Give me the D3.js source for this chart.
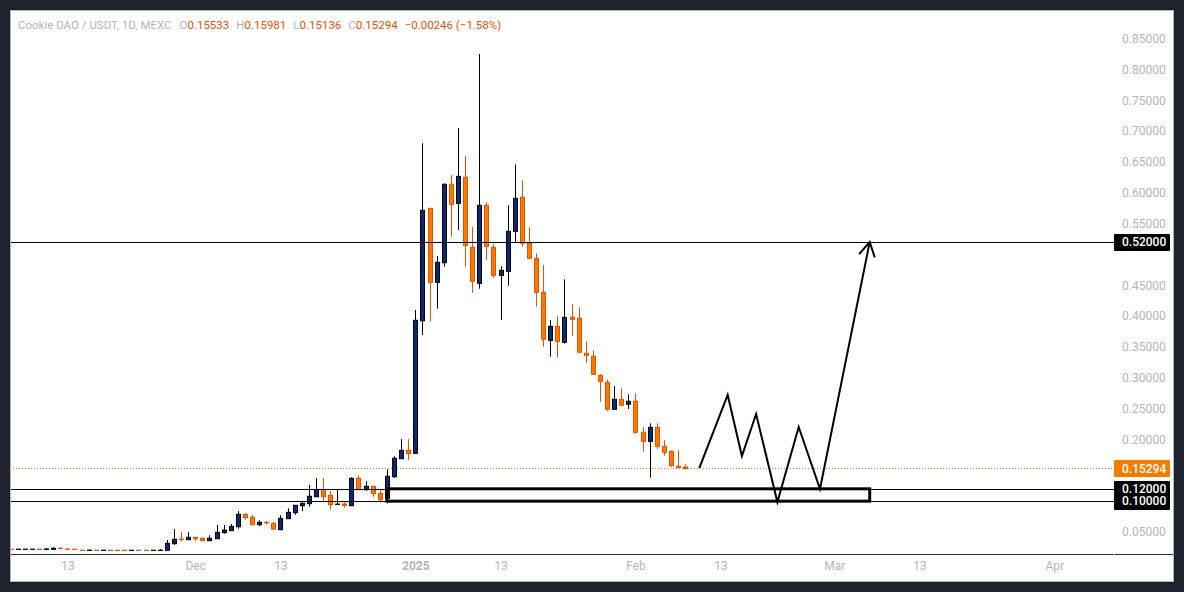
<!DOCTYPE html>
<html>
<head>
<meta charset="utf-8">
<style>
  html, body { margin: 0; padding: 0; background: #1e222d; }
  svg { display: block; font-family: Roboto, sans-serif; }
  .axis text { fill: #b2b5be; font-size: 12px; font-family: Roboto, sans-serif; }
  .axis .tick line { display: none; }
  .axis .domain { display: none; }
</style>
</head>
<body>
<div id="chart"></div>
<script src="https://cdn.jsdelivr.net/npm/d3@7/dist/d3.min.js"></script>
<script>
// daily candles, first one is 5 Nov 2024
const firstDay = '2024-11-05';
const opens = [
  .0222,.0218,.0218,.0218,.0222,.0218,.0220,.0236,.0222,.0222,.0205,.0201,.0205,.0201,.0205,.0205,.0205,.0201,.0205,.0205,.0201,.0201,
  .0203,.0310,.0385,.0375,.0414,.0398,.0359,.0391,.0489,.0521,.0586,.0787,.0738,.0618,.0655,.0641,.0537,.0716,.0813,.0926,.0959,.1072,
  .1186,.1095,.0947,.0954,.0926,.1370,.1186,.1241,.1127,.1046,.1396,.1688,.1824,
  .1776,.3925,.5747,.4548,.4865,.6136,.5828,.6250,.5115,.4531,.5796,.5115,.4661,.4726,.5374,.5925,.5180,.4937,.4386,.3607,.3834,.3575,.3980,.3964,.3397,.3348,.3040,.2927,.2489,.2651,.2570,
  .2619,.2116,.1970,.2197,.1889,.1808,.1565,.15533
];
const highs = [
  .0222,.0222,.0222,.0222,.0222,.0236,.0252,.0252,.0241,.0222,.0205,.0220,.0205,.0205,.0205,.0205,.0205,.0205,.0205,.0205,.0205,.0225,
  .0370,.0549,.0500,.0500,.0414,.0414,.0446,.0613,.0613,.0630,.0840,.0808,.0776,.0690,.0678,.0662,.0771,.0884,.0933,.0991,.1262,.1375,
  .1375,.1165,.1186,.0991,.1387,.1419,.1322,.1241,.1192,.1516,.1727,.2008,.2008,
  .4099,.6801,.5747,.4974,.6152,.6287,.7049,.6595,.5444,.8248,.5844,.5164,.4807,.5796,.6460,.6201,.5439,.5018,.4828,.3937,.4001,.4596,.4191,.4142,.3591,.3445,.3056,.2975,.2867,.2829,.2732,
  .2748,.2197,.2262,.2262,.1986,.1824,.1824,.15981
];
const lows = [
  .0218,.0218,.0218,.0218,.0218,.0218,.0220,.0220,.0218,.0218,.0201,.0201,.0201,.0201,.0201,.0201,.0201,.0201,.0201,.0201,.0201,.0201,
  .0203,.0294,.0343,.0375,.0354,.0359,.0359,.0391,.0472,.0521,.0553,.0699,.0618,.0597,.0618,.0532,.0537,.0716,.0780,.0840,.0910,.1067,
  .0991,.0861,.0947,.0894,.0926,.1186,.1169,.1072,.0975,.0965,.1380,.1688,.1667,
  .1776,.3693,.3909,.4120,.4801,.5287,.5395,.4801,.4379,.4444,.4914,.4622,.3937,.4492,.5196,.5125,.4937,.4152,.3504,.3342,.3325,.3552,.3682,.3413,.3244,.3056,.2612,.2466,.2489,.2554,.2494,
  .2093,.1802,.1380,.1850,.1737,.1559,.1537,.15136
];
const closes = [
  .0218,.0222,.0222,.0222,.0218,.0225,.0236,.0232,.0218,.0218,.0201,.0205,.0201,.0205,.0201,.0201,.0201,.0205,.0201,.0201,.0205,.0205,
  .0317,.0382,.0379,.0414,.0391,.0359,.0398,.0495,.0532,.0592,.0787,.0732,.0618,.0657,.0648,.0549,.0722,.0819,.0933,.0965,.1079,.1186,
  .1072,.0943,.0952,.0933,.1370,.1186,.1241,.1121,.1024,.1403,.1695,.1824,.1769,
  .3932,.5715,.4548,.4872,.6136,.5812,.6266,.5147,.4564,.5796,.5131,.4661,.4742,.5374,.5909,.5180,.4937,.4386,.3624,.3834,.3591,.3980,.3948,.3413,.3364,.3056,.2943,.2489,.2651,.2554,.2619,
  .2116,.1970,.2197,.1889,.1792,.1575,.1542,.15294
];

const priceTicks = [.05,.10,.15,.20,.25,.30,.35,.40,.45,.50,.55,.60,.65,.70,.75,.80,.85];
const hiddenPriceTicks = [.10,.15,.50];
const timeTicks = ['2024-11-13','2024-12-01','2024-12-13','2025-01-01','2025-01-13','2025-02-01','2025-02-13','2025-03-01','2025-03-13','2025-04-01'];
const timeLabels = ['13','Dec','13','2025','13','Feb','13','Mar','13','Apr'];

const lastPrice = 0.15294;
const levels = [0.52, 0.12, 0.10];
const zoneDates = ['2024-12-28','2025-03-06'];
const zonePrices = [0.12, 0.10];
const pathDates = ['2025-02-10','2025-02-14','2025-02-16','2025-02-18','2025-02-21','2025-02-24','2025-02-27','2025-03-06'];
const pathPrices = [0.1537,0.2721,0.1732,0.2413,0.0986,0.2202,0.1197,0.52];

const legendName = 'Cookie DAO / USDT, 1D, MEXC';
const legendFields = ['O','H','L','C'];
const legendValues = ['0.15533','0.15981','0.15136','0.15294'];
const legendChange = '\u22120.00246 (\u22121.58%)';

const WIDTH = 1184, HEIGHT = 592;
const PANEL = {left: 10, top: 10, right: 1173, bottom: 581};
const PLOT_BOTTOM = 554, SCALE_LEFT = 1114;
const UP_FILL = '#0b2a75', UP_LINE = '#000000', DOWN_FILL = '#f57c00', DOWN_LINE = '#e65100';

const parseDay = d3.utcParse('%Y-%m-%d');
const candles = opens.map((open, i) => ({
  date: d3.utcDay.offset(parseDay(firstDay), i),
  open, high: highs[i], low: lows[i], close: closes[i]
}));

const x = d3.scaleUtc().domain([parseDay(firstDay), parseDay('2025-04-01')]).range([10.6, 1054.3]);
const y = d3.scaleLinear().domain([0.05, 0.85]).range([532, 38.5]);

const svg = d3.select('#chart').append('svg').attr('width', WIDTH).attr('height', HEIGHT);

svg.append('rect')
  .attr('x', PANEL.left + 0.5).attr('y', PANEL.top + 0.5)
  .attr('width', PANEL.right - PANEL.left).attr('height', PANEL.bottom - PANEL.top)
  .attr('fill', '#ffffff').attr('stroke', '#b2b5be');

svg.append('clipPath').attr('id', 'plot').append('rect')
  .attr('x', PANEL.left + 1).attr('y', PANEL.top + 1)
  .attr('width', SCALE_LEFT - PANEL.left).attr('height', PLOT_BOTTOM - PANEL.top - 1);

// separator under the plot, broken where the price scale starts
[[PANEL.left + 1, SCALE_LEFT], [SCALE_LEFT + 1, PANEL.right]].forEach(([a, b]) => {
  svg.append('line').attr('x1', a).attr('x2', b).attr('y1', PLOT_BOTTOM + 0.5).attr('y2', PLOT_BOTTOM + 0.5)
    .attr('stroke', '#2a2e39');
});

const plot = svg.append('g').attr('clip-path', 'url(#plot)');

// last price line
plot.append('line')
  .attr('x1', PANEL.left).attr('x2', SCALE_LEFT)
  .attr('y1', Math.round(y(lastPrice)) + 0.5).attr('y2', Math.round(y(lastPrice)) + 0.5)
  .attr('stroke', '#f57c00').attr('stroke-dasharray', '1 2');

// candles
const candle = plot.selectAll('.candle').data(candles).join('g').attr('class', 'candle');
const isUp = (d) => d.close >= d.open;
const snap = (d) => Math.round(x(d.date));

candle.append('line')
  .attr('x1', (d) => snap(d) + 0.5).attr('x2', (d) => snap(d) + 0.5)
  .attr('y1', (d) => y(d.high)).attr('y2', (d) => y(d.low))
  .attr('stroke', (d) => isUp(d) ? UP_LINE : DOWN_LINE);

candle.append('rect')
  .attr('x', (d) => snap(d) - 1.5).attr('width', 4)
  .attr('y', (d) => y(Math.max(d.open, d.close)))
  .attr('height', (d) => Math.abs(y(d.open) - y(d.close)))
  .attr('fill', (d) => isUp(d) ? UP_FILL : DOWN_FILL)
  .attr('stroke', (d) => isUp(d) ? UP_LINE : DOWN_LINE);

// horizontal levels
plot.selectAll('.level').data(levels).join('line')
  .attr('class', 'level')
  .attr('x1', PANEL.left).attr('x2', SCALE_LEFT)
  .attr('y1', (d) => Math.round(y(d)) + 0.5).attr('y2', (d) => Math.round(y(d)) + 0.5)
  .attr('stroke', '#000000').attr('stroke-width', 1);

// demand zone
plot.append('rect')
  .attr('x', x(parseDay(zoneDates[0]))).attr('width', x(parseDay(zoneDates[1])) - x(parseDay(zoneDates[0])))
  .attr('y', y(zonePrices[0])).attr('height', y(zonePrices[1]) - y(zonePrices[0]))
  .attr('fill', 'none').attr('stroke', '#000000').attr('stroke-width', 3);

// projected path with arrow head
svg.append('defs').append('marker')
  .attr('id', 'head').attr('markerUnits', 'userSpaceOnUse')
  .attr('viewBox', '-16 -10 20 20').attr('refX', 0).attr('refY', 0)
  .attr('markerWidth', 20).attr('markerHeight', 20).attr('orient', 'auto')
  .append('path').attr('d', 'M-14,-8L0,0L-14,8')
  .attr('fill', 'none').attr('stroke', '#000000').attr('stroke-width', 2);

const pathLine = d3.line().x((d) => x(parseDay(d[0]))).y((d) => y(d[1]));
plot.append('path')
  .attr('d', pathLine(pathDates.map((d, i) => [d, pathPrices[i]])))
  .attr('fill', 'none').attr('stroke', '#000000').attr('stroke-width', 2)
  .attr('marker-end', 'url(#head)');

// price scale
const yAxis = d3.axisRight(y)
  .tickValues(priceTicks.filter((t) => !hiddenPriceTicks.includes(t)))
  .tickFormat(d3.format('.5f')).tickSize(0).tickPadding(0);
svg.append('g').attr('class', 'axis').attr('transform', `translate(${SCALE_LEFT + 8},0)`).call(yAxis);

// time scale
const xAxis = d3.axisBottom(x)
  .tickValues(timeTicks.map(parseDay))
  .tickFormat((d, i) => timeLabels[i]).tickSize(0).tickPadding(0);
const timeAxis = svg.append('g').attr('class', 'axis').attr('transform', `translate(0,${PLOT_BOTTOM + 7})`).call(xAxis);
timeAxis.selectAll('text').style('font-weight', (d, i) => timeLabels[i] === '2025' ? 700 : 400);

// scale tags
const tags = [
  {value: 0.52, fill: '#000000'},
  {value: lastPrice, fill: '#f57c00'},
  {value: 0.12, fill: '#000000'},
  {value: 0.10, fill: '#000000'}
];
const tag = svg.selectAll('.tag').data(tags).join('g').attr('class', 'tag');
tag.append('rect')
  .attr('x', SCALE_LEFT).attr('width', 56)
  .attr('y', (d) => Math.round(y(d.value)) - 8).attr('height', 17)
  .attr('rx', 1).attr('fill', (d) => d.fill);
tag.append('text')
  .attr('x', SCALE_LEFT + 8).attr('y', (d) => y(d.value)).attr('dy', '0.36em')
  .attr('fill', '#ffffff').attr('font-size', 12).attr('font-weight', 500)
  .text((d) => d3.format('.5f')(d.value));

// header legend
const legend = svg.append('text').attr('x', 18).attr('y', 29).attr('font-size', 11.5).attr('fill', '#b2b5be');
legend.append('tspan').text(legendName);
legendFields.forEach((field, i) => {
  legend.append('tspan').attr('dx', i === 0 ? 8 : 7).text(field);
  legend.append('tspan').attr('fill', DOWN_LINE).text(legendValues[i]);
});
legend.append('tspan').attr('dx', 7).attr('fill', DOWN_LINE).text(legendChange);
</script>
</body>
</html>
